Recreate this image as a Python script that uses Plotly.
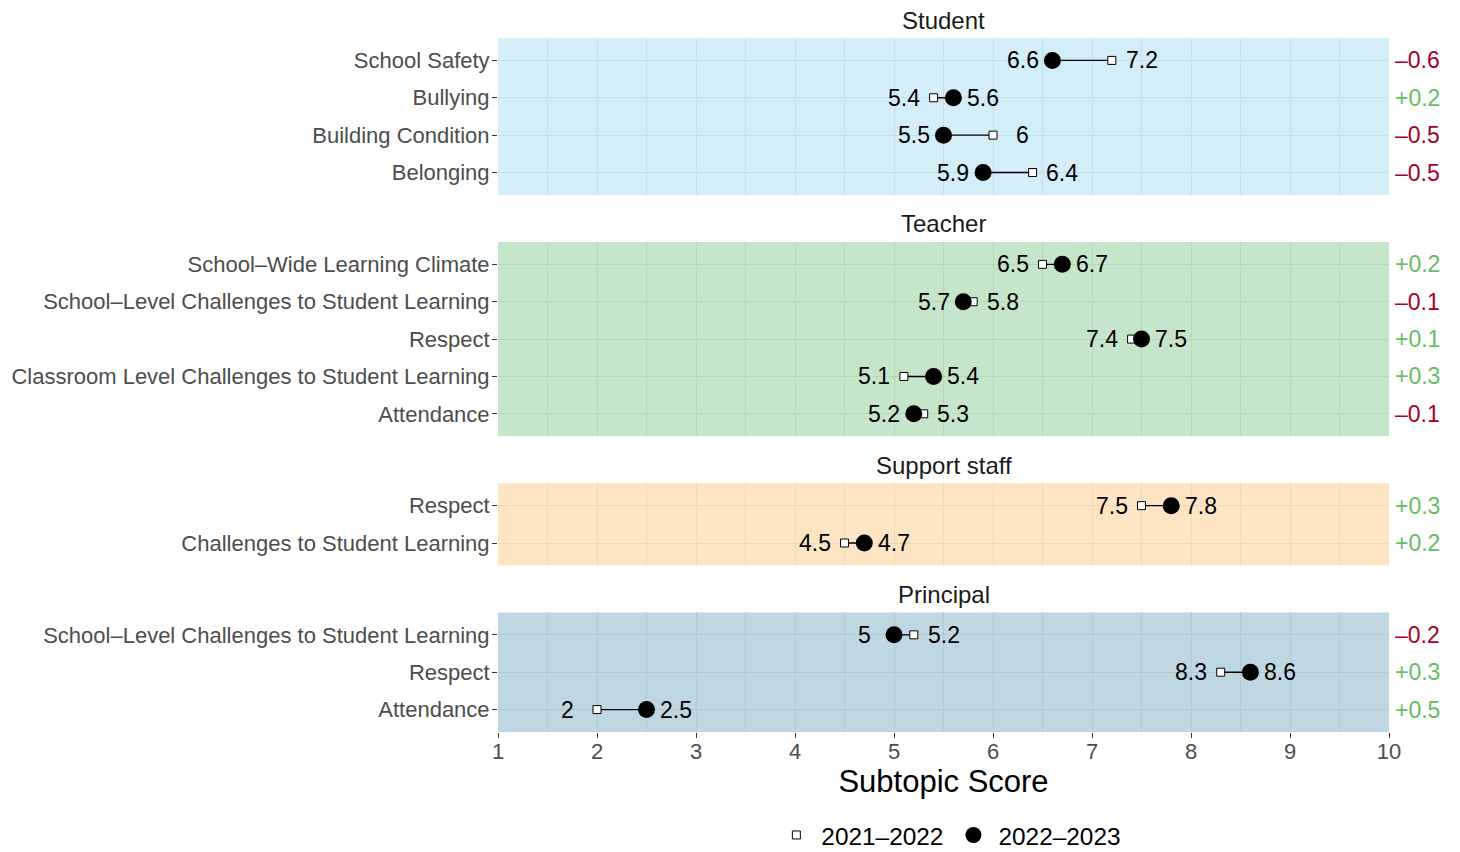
import plotly.graph_objects as go

# ---------------- data ----------------
groups = ["Student", "Teacher", "Support staff", "Principal"]

student_labels = ["School Safety", "Bullying", "Building Condition", "Belonging"]
student_2122 = [7.2, 5.4, 6.0, 6.4]
student_2223 = [6.6, 5.6, 5.5, 5.9]

teacher_labels = ["School–Wide Learning Climate",
                  "School–Level Challenges to Student Learning",
                  "Respect",
                  "Classroom Level Challenges to Student Learning",
                  "Attendance"]
teacher_2122 = [6.5, 5.8, 7.4, 5.1, 5.3]
teacher_2223 = [6.7, 5.7, 7.5, 5.4, 5.2]

support_labels = ["Respect", "Challenges to Student Learning"]
support_2122 = [7.5, 4.5]
support_2223 = [7.8, 4.7]

principal_labels = ["School–Level Challenges to Student Learning", "Respect", "Attendance"]
principal_2122 = [5.2, 8.3, 2.0]
principal_2223 = [5.0, 8.6, 2.5]

x_ticks = [1, 2, 3, 4, 5, 6, 7, 8, 9, 10]
legend_names = ["2021–2022", "2022–2023"]

# ---------------- styles ----------------
panel_bg = ["#D4EEF9", "#C6E6C9", "#FDE5C4", "#BFD7E3"]
panel_grid = ["#C5E0EC", "#B8D8BB", "#F0D8B7", "#B2CAD6"]
pos_color = "#66BD63"
neg_color = "#A50026"
FONT = "Liberation Sans, Arial, Helvetica, sans-serif"

# page has an 8px body margin, so the figure is 8px smaller and margins shifted
W, H = 1452, 844
ML, MR, MT, MB = 490, 71, 30, 120
plot_h = H - MT - MB
gap_px = 47

data = [
    (student_labels, student_2122, student_2223),
    (teacher_labels, teacher_2122, teacher_2223),
    (support_labels, support_2122, support_2223),
    (principal_labels, principal_2122, principal_2223),
]

units = [len(d[0]) + 0.2 for d in data]
unit_px = (plot_h - gap_px * (len(data) - 1)) / sum(units)

fig = go.Figure()
layout = {}
annotations = []
shapes = []

top_px = 0.0
for k, (labels, v1, v2) in enumerate(data):
    idx = k + 1
    ax = "" if idx == 1 else str(idx)
    n = len(labels)
    h_px = units[k] * unit_px
    top = 1 - top_px / plot_h
    bot = 1 - (top_px + h_px) / plot_h
    top_px += h_px + gap_px
    ys = list(range(n))

    # segments
    sx, sy = [], []
    for i in ys:
        sx += [v1[i], v2[i], None]
        sy += [i, i, None]
    fig.add_trace(go.Scatter(x=sx, y=sy, mode="lines", line=dict(color="black", width=1.4),
                             showlegend=False, hoverinfo="skip", xaxis="x" + ax, yaxis="y" + ax))
    # 2021-2022 squares
    fig.add_trace(go.Scatter(x=v1, y=ys, mode="markers", name=legend_names[0],
                             marker=dict(symbol="square", size=8, color="white",
                                         line=dict(color="black", width=1)),
                             showlegend=(k == 0), legendrank=1,
                             xaxis="x" + ax, yaxis="y" + ax))
    # 2022-2023 circles
    fig.add_trace(go.Scatter(x=v2, y=ys, mode="markers", name=legend_names[1],
                             marker=dict(symbol="circle", size=17, color="black"),
                             showlegend=(k == 0), legendrank=2,
                             xaxis="x" + ax, yaxis="y" + ax))
    # value labels (nudged 0.3 away from the pair)
    for i in ys:
        lo, hi = min(v1[i], v2[i]), max(v1[i], v2[i])
        for xv, val in ((lo - 0.3, lo), (hi + 0.3, hi)):
            annotations.append(dict(x=xv, xref="x" + ax, y=i, yref="y" + ax,
                                    xanchor="center", yanchor="middle",
                                    text=f"{val:g}", showarrow=False,
                                    font=dict(size=23, color="black", family=FONT)))
    # difference labels
    for i in ys:
        d = round(v2[i] - v1[i], 1)
        txt = f"{d:+.1f}".replace("-", "–")
        annotations.append(dict(x=1, xref="paper", y=i, yref="y" + ax, xanchor="left",
                                xshift=4, text=txt, showarrow=False,
                                font=dict(size=23, color=pos_color if d > 0 else neg_color,
                                          family=FONT)))
    # strip title
    annotations.append(dict(x=0.5, xref="paper", y=top, yref="paper", yanchor="middle",
                            yshift=18, text=groups[k], showarrow=False,
                            font=dict(size=24, color="#1A1A1A", family=FONT)))
    # panel background
    shapes.append(dict(type="rect", xref="x" + ax + " domain", yref="y" + ax + " domain",
                       x0=0, x1=1, y0=0, y1=1, fillcolor=panel_bg[k], line=dict(width=0),
                       layer="below"))

    last = (k == len(data) - 1)
    layout["xaxis" + ax] = dict(
        domain=[0, 1], range=[1, 10], anchor="y" + ax,
        tickvals=x_ticks, showticklabels=last,
        ticks="outside" if last else "", ticklen=5, tickcolor="#333333", tickwidth=1,
        ticklabelstandoff=-5 if last else 0,
        tickfont=dict(size=22, color="#4D4D4D", family=FONT),
        showgrid=True, gridcolor=panel_grid[k], gridwidth=1.3, zeroline=False,
        showline=False,
        minor=dict(dtick=0.5, tick0=1, showgrid=True, gridcolor=panel_grid[k], gridwidth=0.7),
        title=dict(text="Subtopic Score", font=dict(size=31, color="black", family=FONT),
                   standoff=4) if last else None,
    )
    if not last:
        layout["xaxis" + ax]["matches"] = "x" + str(len(data))
    layout["yaxis" + ax] = dict(
        domain=[bot, top], anchor="x" + ax, range=[n - 0.4, -0.6],
        tickvals=ys, ticktext=labels, ticks="outside", ticklen=5,
        tickcolor="#333333", tickwidth=1, ticklabelstandoff=-2,
        tickfont=dict(size=22, color="#4D4D4D", family=FONT),
        showgrid=True, gridcolor=panel_grid[k], gridwidth=1.3, zeroline=False,
        showline=False,
    )

fig.update_layout(
    width=W, height=H,
    margin=dict(l=ML, r=MR, t=MT, b=MB, autoexpand=False),
    paper_bgcolor="white", plot_bgcolor="white",
    font=dict(family=FONT),
    showlegend=True,
    legend=dict(orientation="h", x=0.506, xanchor="center", y=-0.181, yanchor="bottom",
                itemwidth=40,
                font=dict(size=24.4, color="black", family=FONT), bgcolor="rgba(0,0,0,0)"),
    annotations=annotations,
    shapes=shapes,
    **layout,
)

fig.write_html("out.html")
